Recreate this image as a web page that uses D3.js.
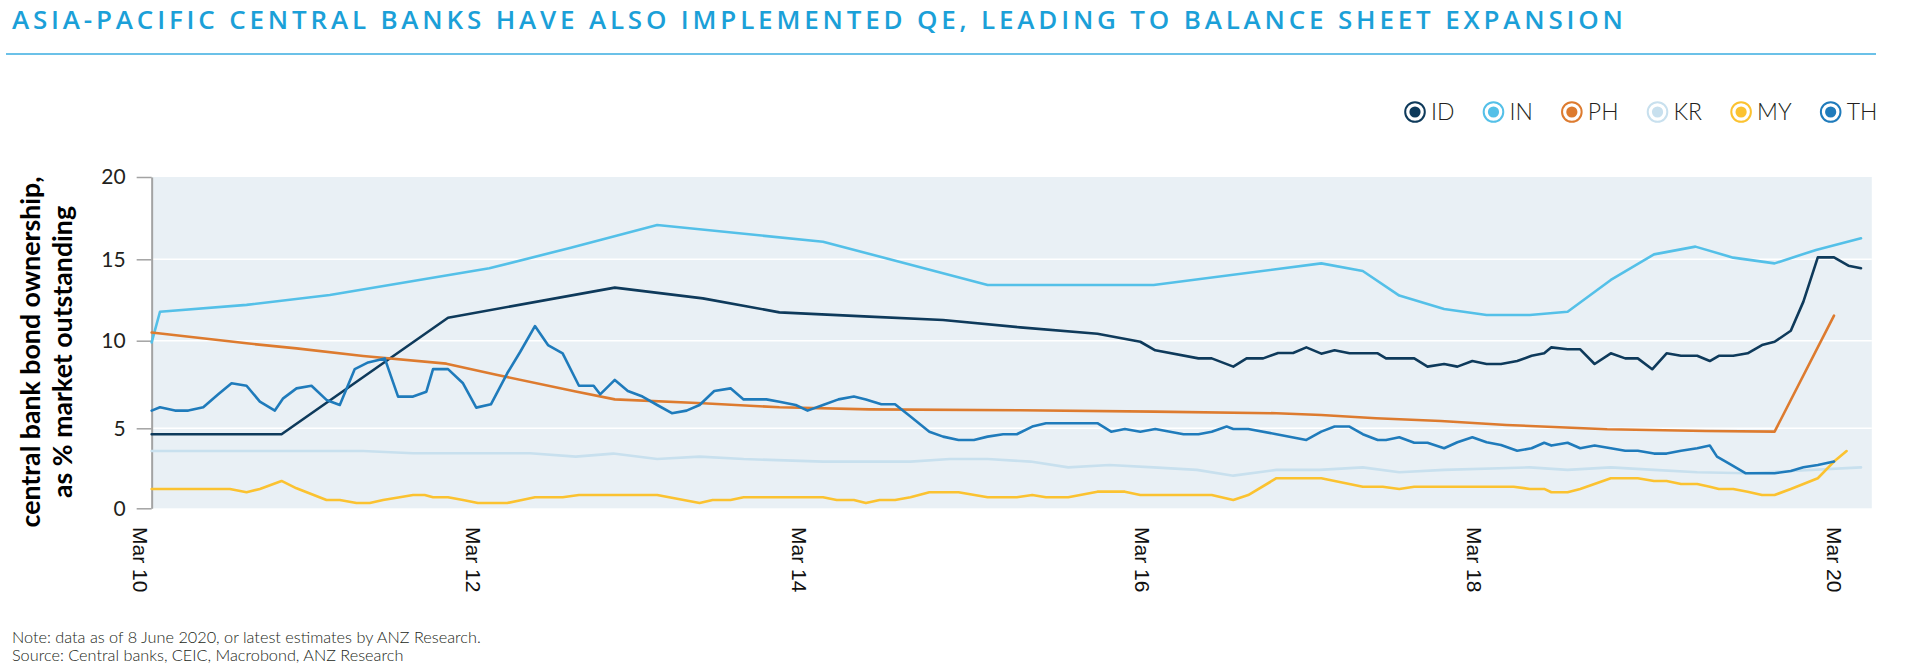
<!DOCTYPE html>
<html><head><meta charset="utf-8">
<script src="https://cdnjs.cloudflare.com/ajax/libs/d3/7.8.5/d3.min.js"></script>
<style>body{margin:0;background:#fff;} svg{display:block;}</style>
</head><body>
<svg id="chart" width="1920" height="668"></svg>
<script>
// ---------- texts ----------
const titleText = "ASIA-PACIFIC CENTRAL BANKS HAVE ALSO IMPLEMENTED QE, LEADING TO BALANCE SHEET EXPANSION";
const noteText = "Note: data as of 8 June 2020, or latest estimates by ANZ Research.";
const sourceText = "Source: Central banks, CEIC, Macrobond, ANZ Research";
const yTitleLines = ["central bank bond ownership,", "as % market outstanding"];

// ---------- axes ----------
const xTickYears = [10, 12, 14, 16, 18, 20];
const xTickLabels = ["Mar 10", "Mar 12", "Mar 14", "Mar 16", "Mar 18", "Mar 20"];
const yTicks = [0, 5, 10, 15, 20];
const xDomainStart = 10.07, xDomainEnd = 20.21;

// ---------- series ----------
const seriesNames = ["ID", "IN", "PH", "KR", "MY", "TH"];
const seriesColors = ["#0e3a5b", "#54c0e8", "#dd7b2f", "#c8e0ee", "#fbc230", "#1f7bbb"];

// [year (Mar yy = yy), % of market outstanding]
const ID = [[10.07,4.63],[10.85,4.63],[11.85,11.41],[12.87,13.26],[13.41,12.6],[13.88,11.74],[14.41,11.48],[14.84,11.27],[15.29,10.82],[15.74,10.43],[15.99,9.94],[16.08,9.45],[16.34,8.99],[16.42,8.99],[16.55,8.52],[16.63,8.99],[16.73,8.99],[16.82,9.3],[16.91,9.3],[16.99,9.62],[17.08,9.26],[17.16,9.45],[17.25,9.28],[17.42,9.28],[17.47,8.99],[17.64,8.99],[17.72,8.52],[17.82,8.67],[17.90,8.52],[17.99,8.84],[18.07,8.67],[18.15,8.67],[18.24,8.84],[18.32,9.14],[18.39,9.28],[18.43,9.62],[18.52,9.51],[18.59,9.51],[18.67,8.67],[18.76,9.28],[18.84,8.99],[18.91,8.99],[18.99,8.37],[19.07,9.28],[19.15,9.14],[19.24,9.14],[19.31,8.84],[19.36,9.14],[19.44,9.14],[19.52,9.28],[19.60,9.75],[19.67,9.94],[19.76,10.61],[19.83,12.4],[19.91,15.12],[20.00,15.12],[20.08,14.61],[20.15,14.45]];
const IN = [[10.07,9.9],[10.12,11.78],[10.64,12.2],[11.14,12.81],[12.10,14.45],[12.60,15.7],[13.13,17.08],[14.14,16.07],[15.10,13.42],[16.07,13.42],[17.08,14.75],[17.33,14.28],[17.55,12.77],[17.82,11.95],[18.07,11.58],[18.31,11.58],[18.52,11.78],[18.76,13.73],[19.00,15.3],[19.23,15.77],[19.44,15.1],[19.67,14.75],[19.90,15.57],[20.15,16.28]];
const PH = [[10.07,10.5],[10.64,9.85],[10.94,9.56],[11.34,9.13],[11.84,8.69],[12.15,8.04],[12.63,7.1],[12.87,6.65],[13.41,6.43],[13.88,6.2],[14.41,6.08],[15.29,6.03],[16.07,5.95],[16.81,5.86],[17.08,5.76],[17.41,5.57],[17.80,5.42],[18.18,5.19],[18.74,4.94],[19.29,4.83],[19.67,4.79],[20.00,11.54]];
const KR = [[10.07,3.58],[11.34,3.58],[11.64,3.44],[12.35,3.44],[12.63,3.23],[12.86,3.42],[13.13,3.08],[13.39,3.23],[13.66,3.08],[14.14,2.92],[14.65,2.92],[14.88,3.08],[15.10,3.08],[15.35,2.92],[15.57,2.56],[15.81,2.71],[16.07,2.56],[16.33,2.4],[16.55,2.04],[16.81,2.4],[17.07,2.4],[17.33,2.56],[17.55,2.25],[17.82,2.4],[18.31,2.56],[18.52,2.4],[18.76,2.56],[19.00,2.4],[19.24,2.25],[19.52,2.19],[19.76,2.33],[20.15,2.56]];
const MY = [[10.07,1.21],[10.54,1.21],[10.64,1.0],[10.72,1.21],[10.85,1.71],[10.94,1.25],[11.12,0.52],[11.20,0.52],[11.30,0.33],[11.38,0.33],[11.46,0.52],[11.56,0.69],[11.64,0.83],[11.71,0.83],[11.76,0.69],[11.85,0.69],[11.94,0.52],[12.03,0.33],[12.21,0.33],[12.30,0.52],[12.38,0.69],[12.55,0.69],[12.65,0.83],[13.13,0.83],[13.39,0.33],[13.47,0.52],[13.58,0.52],[13.66,0.69],[14.14,0.69],[14.22,0.52],[14.32,0.52],[14.39,0.33],[14.47,0.52],[14.56,0.52],[14.65,0.69],[14.76,1.0],[14.93,1.0],[15.10,0.69],[15.27,0.69],[15.36,0.83],[15.44,0.69],[15.57,0.69],[15.74,1.04],[15.90,1.04],[15.99,0.83],[16.42,0.83],[16.55,0.52],[16.64,0.83],[16.81,1.88],[17.08,1.88],[17.33,1.35],[17.45,1.35],[17.55,1.21],[17.64,1.35],[18.22,1.35],[18.31,1.21],[18.39,1.21],[18.43,1.0],[18.52,1.0],[18.59,1.21],[18.76,1.88],[18.91,1.88],[19.00,1.71],[19.07,1.71],[19.15,1.52],[19.24,1.52],[19.31,1.35],[19.36,1.21],[19.44,1.21],[19.52,1.04],[19.60,0.83],[19.67,0.83],[19.76,1.21],[19.83,1.52],[19.91,1.88],[20.00,2.92],[20.07,3.58]];
const TH = [[10.07,6.01],[10.12,6.2],[10.21,6.01],[10.29,6.01],[10.38,6.2],[10.47,6.94],[10.55,7.57],[10.64,7.43],[10.72,6.52],[10.81,6.01],[10.86,6.71],[10.94,7.28],[11.03,7.43],[11.12,6.62],[11.20,6.33],[11.29,8.38],[11.37,8.76],[11.47,8.99],[11.55,6.81],[11.64,6.81],[11.72,7.09],[11.76,8.38],[11.85,8.38],[11.94,7.57],[12.02,6.18],[12.11,6.37],[12.21,8.14],[12.29,9.37],[12.38,10.9],[12.46,9.75],[12.55,9.28],[12.65,7.43],[12.74,7.43],[12.78,6.94],[12.87,7.76],[12.95,7.13],[13.04,6.81],[13.13,6.33],[13.22,5.86],[13.31,6.01],[13.39,6.33],[13.48,7.13],[13.58,7.28],[13.66,6.65],[13.80,6.65],[13.88,6.52],[13.98,6.33],[14.05,6.01],[14.14,6.33],[14.23,6.65],[14.32,6.81],[14.39,6.65],[14.48,6.37],[14.56,6.37],[14.65,5.67],[14.76,4.79],[14.84,4.48],[14.93,4.27],[15.02,4.27],[15.10,4.48],[15.19,4.63],[15.27,4.63],[15.36,5.1],[15.44,5.29],[15.74,5.29],[15.82,4.79],[15.90,4.96],[15.99,4.79],[16.08,4.96],[16.25,4.63],[16.34,4.63],[16.42,4.79],[16.51,5.1],[16.55,4.96],[16.64,4.96],[16.81,4.63],[16.99,4.27],[17.08,4.79],[17.16,5.1],[17.25,5.1],[17.33,4.63],[17.42,4.27],[17.47,4.27],[17.55,4.44],[17.64,4.1],[17.72,4.1],[17.82,3.75],[17.90,4.13],[17.99,4.44],[18.07,4.13],[18.15,3.96],[18.24,3.6],[18.32,3.75],[18.39,4.1],[18.43,3.92],[18.52,4.1],[18.59,3.75],[18.67,3.92],[18.76,3.75],[18.84,3.6],[18.91,3.6],[19.00,3.42],[19.07,3.42],[19.15,3.6],[19.24,3.75],[19.31,3.92],[19.35,3.23],[19.42,2.77],[19.51,2.19],[19.67,2.19],[19.76,2.33],[19.83,2.56],[19.91,2.71],[20.00,2.92]];

const seriesData = [ID, IN, PH, KR, MY, TH];

// ---------- drawing ----------
const svg = d3.select("#chart");
const x = d3.scaleLinear().domain(xTickYears).range([140, 473, 799, 1142, 1474, 1834]);
const y = d3.scaleLinear().domain(yTicks).range([508.3, 428.3, 340.7, 259.3, 177]);

function fitWidth(sel, target) {
  const fs = parseFloat(sel.attr("font-size"));
  const L = sel.node().getComputedTextLength();
  sel.attr("font-size", (fs * target / L).toFixed(2));
}

// title
const title = svg.append("text").attr("x", 12).attr("y", 29)
  .attr("font-family", "'Open Sans', sans-serif").attr("font-weight", 600)
  .attr("font-size", 26).attr("fill", "#1ba0d8").text(titleText);
{
  const L0 = title.node().getComputedTextLength();
  title.attr("letter-spacing", ((1611 - L0) / (titleText.length - 1)).toFixed(3));
}
svg.append("line").attr("x1", 6).attr("x2", 1876).attr("y1", 54).attr("y2", 54)
  .attr("stroke", "#3aade0").attr("stroke-width", 1.5);

// plot background
const x0 = x(xDomainStart), x1 = x(xDomainEnd);
svg.append("rect").attr("x", x0).attr("y", y(20)).attr("width", x1 - x0).attr("height", y(0) - y(20))
  .attr("fill", "#e9f0f5");

// gridlines
svg.append("g").selectAll("line").data(yTicks.filter(d => d > 0 && d < 20)).join("line")
  .attr("x1", x0).attr("x2", x1).attr("y1", d => y(d)).attr("y2", d => y(d))
  .attr("stroke", "#ffffff").attr("stroke-width", 1.6);

// y axis
const yAxis = svg.append("g").attr("transform", `translate(${x0},0)`)
  .call(d3.axisLeft(y).tickValues(yTicks).tickSize(15).tickSizeOuter(0).tickPadding(11));
yAxis.select(".domain").attr("stroke", "#a3a3a3").attr("stroke-width", 2);
yAxis.selectAll(".tick line").attr("stroke", "#a3a3a3").attr("stroke-width", 1.5);
yAxis.selectAll(".tick text").attr("font-family", "Lato, sans-serif").attr("font-size", 21)
  .attr("fill", "#231f20");

// y axis title
const yTitleX = [40, 72];
yTitleLines.forEach((t, i) => {
  svg.append("text").attr("class", "ytitle")
    .attr("transform", `translate(${yTitleX[i]},352) rotate(-90)`)
    .attr("text-anchor", "middle").attr("font-family", "Lato, sans-serif")
    .attr("font-weight", 700).attr("font-size", 26).attr("fill", "#000").text(t);
});
{
  const t0 = svg.select(".ytitle");
  fitWidth(t0, 351);
  svg.selectAll(".ytitle").attr("font-size", t0.attr("font-size"));
}

// x axis (labels only)
const xAxis = svg.append("g").attr("transform", "translate(0,527)")
  .call(d3.axisBottom(x).tickValues(xTickYears).tickFormat((d, i) => xTickLabels[i]).tickSize(0).tickPadding(0));
xAxis.select(".domain").remove();
xAxis.selectAll(".tick text").attr("x", 0).attr("y", 0).attr("dy", "0.36em")
  .attr("transform", "rotate(90)").style("text-anchor", "start")
  .attr("font-family", "'Liberation Sans', Arial, sans-serif").attr("font-size", 21).attr("fill", "#111");

// lines
const line = d3.line().x(d => x(d[0])).y(d => y(d[1]));
svg.append("g").selectAll("path").data(seriesData).join("path")
  .attr("d", line).attr("fill", "none")
  .attr("stroke", (d, i) => seriesColors[i])
  .attr("stroke-width", 2.6).attr("stroke-linejoin", "round").attr("stroke-linecap", "round");

// legend
let cx = 1415;
const legY = 112;
seriesNames.forEach((name, i) => {
  const g = svg.append("g").attr("transform", `translate(${cx},${legY})`);
  g.append("circle").attr("r", 9.8).attr("fill", "#fff").attr("stroke", seriesColors[i]).attr("stroke-width", 2);
  g.append("circle").attr("r", 5.6).attr("fill", seriesColors[i]);
  const t = g.append("text").attr("x", 16).attr("dy", "0.36em")
    .attr("font-family", "Lato, sans-serif").attr("font-weight", 300)
    .attr("font-size", 23).attr("fill", "#231f20").text(name);
  cx += 16 + t.node().getComputedTextLength() + 39;
});

// notes
const note = svg.append("text").attr("x", 12).attr("y", 643)
  .attr("font-family", "Lato, sans-serif").attr("font-weight", 300)
  .attr("font-size", 16).attr("fill", "#231f20").text(noteText);
fitWidth(note, 469);
svg.append("text").attr("x", 12).attr("y", 661)
  .attr("font-family", "Lato, sans-serif").attr("font-weight", 300)
  .attr("font-size", note.attr("font-size")).attr("fill", "#231f20").text(sourceText);
</script>
</body></html>
